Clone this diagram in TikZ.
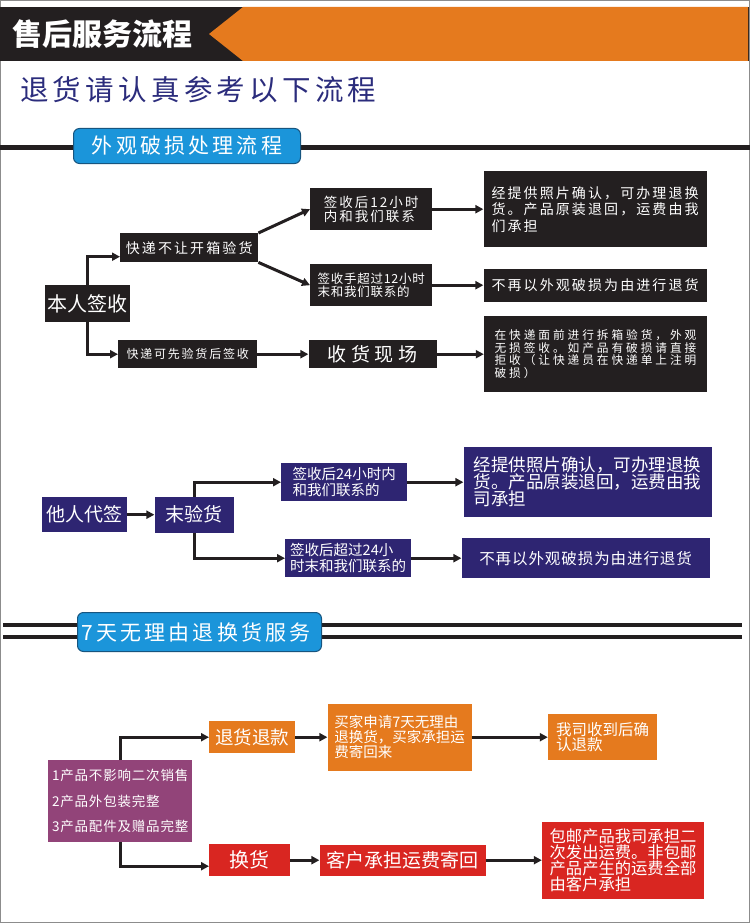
\documentclass[tikz,border=0pt]{standalone}
\usepackage{fontspec}
\setmainfont{Noto Sans CJK SC}
\newfontfamily\tightsp[LetterSpace=6]{Noto Sans CJK SC}
\newfontfamily\spaced[LetterSpace=15]{Noto Sans CJK SC}
\newfontfamily\widesp[LetterSpace=25]{Noto Sans CJK SC}
\usetikzlibrary{arrows.meta,positioning}
\definecolor{Ink}{HTML}{231F20}
\definecolor{Frame}{HTML}{8C8C8C}
\definecolor{Orange}{HTML}{E57A1E}
\definecolor{Navy}{HTML}{2E2572}
\definecolor{Plum}{HTML}{924479}
\definecolor{Crimson}{HTML}{D92621}
\definecolor{Sky}{HTML}{1B95DA}
\definecolor{SkyEdge}{HTML}{17557F}
\definecolor{Title}{HTML}{2B2C7C}

\begin{document}
\begin{tikzpicture}[x=1pt,y=-1pt,
        flow/.style={anchor=north west,inner sep=1pt,text=white,align=left},
        size/.style 2 args={minimum width=#1,minimum height=#2},
        blk/.style={flow,fill=Ink},
        navybox/.style={flow,fill=Navy},
        orangebox/.style={flow,fill=Orange},
        redbox/.style={flow,fill=Crimson},
        heading/.style={anchor=north west,fill=Sky,draw=SkyEdge,line width=1pt,
          rounded corners=6pt,text=white,inner sep=0pt,
          font={\spaced\fontsize{21}{21}\selectfont}},
        link/.style={-{Triangle[length=8pt,width=8pt]},line width=3pt,Ink}]
  \useasboundingbox (0,0) rectangle (750,923);
  \draw[Frame,line width=1pt] (0.5,0.5) rectangle (749.5,922.5);

  % header band
  \fill[Ink] (0,7) rectangle (749,61);
  \fill[Orange] (243,7) -- (748,7) -- (748,61) -- (243,61) -- (209,34) -- cycle;
  \node[anchor=west,text=white,inner sep=0pt,font=\bfseries\fontsize{30}{30}\selectfont]
    (banner) at (12,34) {售后服务流程};
  \node[anchor=west,text=Title,inner sep=0pt,font={\spaced\fontsize{28.5}{28.5}\selectfont}]
    (subtitle) at (20,90) {退货请认真参考以下流程};

  % section 1
  \draw[Ink,line width=5pt] (0,147.5) -- (750,147.5);
  \node[heading,size={227}{35},align=center] (sec1) at (73,128) {外观破损处理流程};

  \node[blk,size={85}{37},font=\fontsize{20}{20}\selectfont] (benren) at (45,285) {本人签收};
  \node[blk,size={138}{29},font={\spaced\fontsize{14}{16}\selectfont}] (kdbr) at (120,233) {快递不让开箱验货};
  \node[blk,size={139}{28},font={\spaced\fontsize{12}{14}\selectfont}] (kdky) at (118,340) {快递可先验货后签收};
  \node[blk,size={122}{42},font={\spaced\fontsize{13.5}{14.5}\selectfont}] (q12) at (310,188) {签收后12小时\\内和我们联系};
  \node[blk,size={122}{42},font={\tightsp\fontsize{12.5}{13.5}\selectfont}] (q12b) at (310,264) {签收手超过12小时\\末和我们联系的};
  \node[blk,size={128}{28},font={\widesp\fontsize{19}{19}\selectfont},right=51pt of kdky] (xhxc) {收货现场};
  \node[blk,size={223}{76},font={\spaced\fontsize{14}{16.5}\selectfont},right=51pt of q12] (r1)
    {经提供照片确认，可办理退换\\货。产品原装退回，运费由我\\们承担};
  \node[blk,size={223}{33},font={\spaced\fontsize{14}{16}\selectfont},right=51pt of q12b] (r2)
    {不再以外观破损为由进行退货};
  \node[blk,size={223}{76},font={\widesp\fontsize{11.7}{12.7}\selectfont},right=47pt of xhxc] (r3)
    {在快递面前进行拆箱验货，外观\\无损签收。如产品有破损请直接\\拒收（让快递员在快递单上注明\\破损）};

  \draw[link] (benren.north) |- ([yshift=-9pt]kdbr.west);
  \draw[link] (benren.south) |- (kdky.west);
  \draw[link] (kdbr.north east) -- (q12.west);
  \draw[link] (kdbr.south east) -- (q12b.west);
  \draw[link] (kdky) -- (xhxc);
  \draw[link] (q12) -- (r1);
  \draw[link] (q12b) -- (r2);
  \draw[link] (xhxc) -- (r3);

  % section 2
  \node[navybox,size={85}{35},font=\fontsize{19}{19}\selectfont] (tadq) at (42,497) {他人代签};
  \node[navybox,size={79}{36},font=\fontsize{19}{19}\selectfont,right=27pt of tadq] (wyh) {末验货};
  \node[navybox,size={126}{38},font=\fontsize{14.5}{16}\selectfont] (q24a) at (281,463) {签收后24小时内\\和我们联系的};
  \node[navybox,size={126}{38},font=\fontsize{14.5}{15.5}\selectfont] (q24b) at (285,539) {签收后超过24小\\时末和我们联系的};
  \node[navybox,size={248}{70},font=\fontsize{17.5}{17}\selectfont,right=56pt of q24a] (rA)
    {经提供照片确认，可办理退换\\货。产品原装退回，运费由我\\司承担};
  \node[navybox,size={248}{40},font={\tightsp\fontsize{15.5}{16}\selectfont},right=50pt of q24b] (rB)
    {不再以外观破损为由进行退货};

  \draw[link] (tadq) -- (wyh);
  \draw[link] (wyh.north) |- (q24a.west);
  \draw[link] (wyh.south) |- (q24b.west);
  \draw[link] (q24a) -- (rA);
  \draw[link] (q24b) -- (rB);

  % section 3
  \draw[Ink,line width=4pt] (3,625) -- (742,625);
  \draw[Ink,line width=4pt] (3,637) -- (742,637);
  \node[heading,size={244}{39},text width=236,align=left] (sec3) at (77,612) {7天无理由退换货服务};

  \node[flow,fill=Plum,size={144}{82},font={\tightsp\fontsize{13.5}{25.5}\selectfont}] (prp) at (48,760)
    {1产品不影响二次销售\\2产品外包装完整\\3产品配件及赠品完整};
  \node[orangebox,size={86}{32},font=\fontsize{18.5}{18.5}\selectfont] (thtk) at (209,721) {退货退款};
  \node[orangebox,size={144}{67},font=\fontsize{14.5}{15}\selectfont,right=32pt of thtk] (mj)
    {买家申请7天无理由\\退换货，买家承担运\\费寄回来};
  \node[orangebox,size={109}{46},font=\fontsize{15.5}{15.5}\selectfont,right=76pt of mj] (wsh)
    {我司收到后确\\认退款};
  \node[redbox,size={81}{32},font=\fontsize{20}{20}\selectfont] (hh) at (209,844) {换货};
  \node[redbox,size={166}{31},font=\fontsize{19}{19}\selectfont,right=29pt of hh] (kh) {客户承担运费寄回};
  \node[redbox,size={162}{77},font=\fontsize{16.3}{15.8}\selectfont,right=56pt of kh] (rr)
    {包邮产品我司承担二\\次发出运费。非包邮\\产品产生的运费全部\\由客户承担};

  \draw[link] (prp.north) |- (thtk.west);
  \draw[link] (prp.south) |- ([yshift=-6pt]hh.west);
  \draw[link] (thtk) -- (mj);
  \draw[link] (mj) -- (wsh);
  \draw[link] (hh) -- (kh);
  \draw[link] (kh) -- (rr);
\end{tikzpicture}
\end{document}
